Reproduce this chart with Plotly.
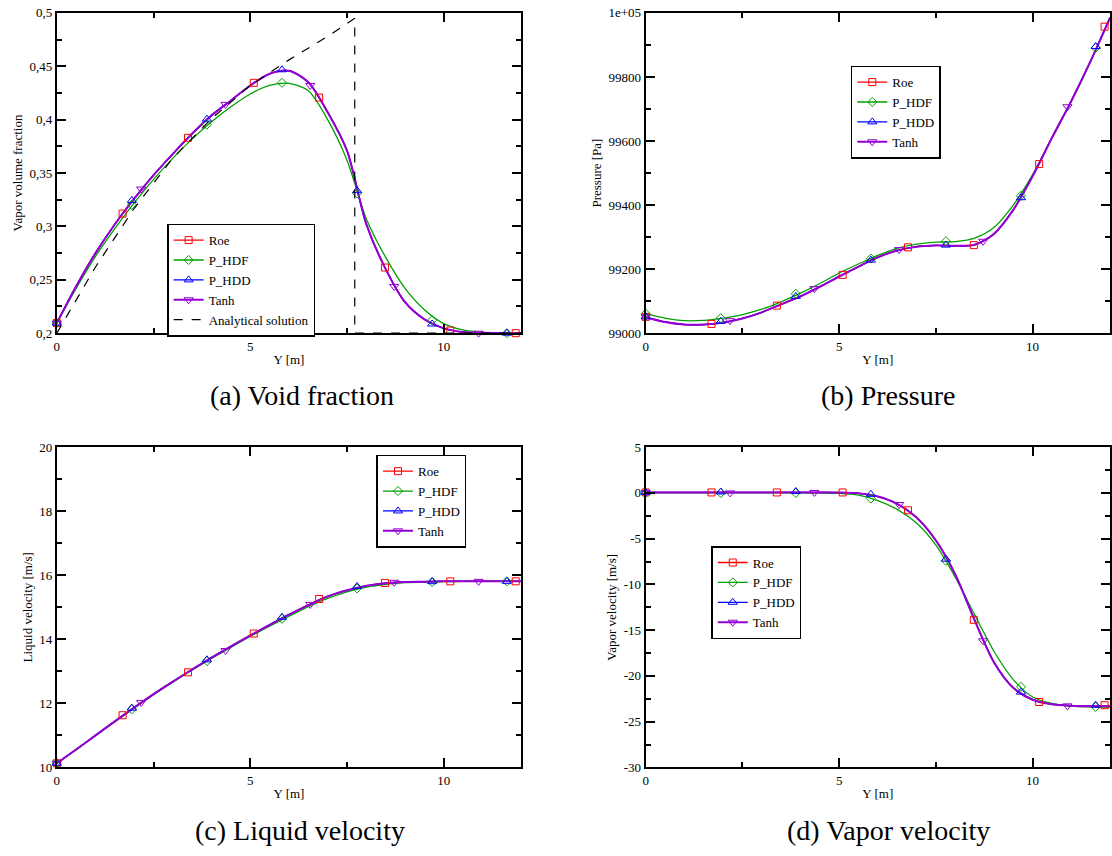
import plotly.graph_objects as go

# ---------------- data ----------------
Y_GRID = [0, 0.5, 1, 1.5, 2, 2.5, 3, 3.5, 4, 4.5, 5, 5.5, 6, 6.5, 7, 7.5, 8,
          8.5, 9, 9.5, 10, 10.5, 11, 11.5, 12]

# marker abscissae for each scheme
MK_X_ROE = [0, 1.70, 3.39, 5.09, 6.78, 8.48, 10.17, 11.86]
MK_X_HD = [0, 1.94, 3.88, 5.82, 7.76, 9.70, 11.63]
MK_X_TANH = [0, 2.18, 4.36, 6.55, 8.72, 10.90]

# (a) void fraction
VF_ROE = [0.2095, 0.244, 0.275, 0.302, 0.326, 0.348, 0.368, 0.387, 0.404, 0.418,
          0.432, 0.443, 0.4458, 0.435, 0.407, 0.371, 0.302, 0.260, 0.229, 0.213,
          0.2045, 0.201, 0.2003, 0.2, 0.2]
VF_HDF = [0.2095, 0.242, 0.272, 0.298, 0.322, 0.344, 0.364, 0.382, 0.398, 0.412,
          0.424, 0.432, 0.434, 0.427, 0.400, 0.362, 0.307, 0.271, 0.242, 0.222,
          0.209, 0.203, 0.2008, 0.2002, 0.2]
VF_HDD = VF_ROE
VF_TANH = VF_ROE
VF_MK_ROE = [0.2095, 0.312, 0.383, 0.4345, 0.4207, 0.2615, 0.2025, 0.2]
VF_MK_HDF = [0.2095, 0.3203, 0.3953, 0.4345, 0.331, 0.2122, 0.2]
VF_MK_HDD = [0.2095, 0.3243, 0.4005, 0.4467, 0.3335, 0.2086, 0.2]
VF_MK_TANH = [0.2095, 0.335, 0.4143, 0.432, 0.2438, 0.2]
ANA_X = [0, 1, 2, 3, 4, 5, 6, 7, 7.7, 7.7, 12]
ANA_Y = [0.2, 0.262, 0.317, 0.364, 0.401, 0.432, 0.456, 0.478, 0.495, 0.2, 0.2]

# (b) pressure
P_ROE = [99050, 99035, 99027, 99027, 99033, 99046, 99065, 99090, 99115, 99145,
         99177, 99208, 99237, 99258, 99270, 99274, 99273, 99276, 99310, 99385,
         99490, 99610, 99725, 99850, 99985]
P_HDF = [99061, 99047, 99039, 99040, 99047, 99058, 99075, 99098, 99125, 99155,
         99188, 99216, 99243, 99265, 99278, 99284, 99286, 99297, 99330, 99400,
         99495, 99610, 99725, 99850, 99985]
P_HDD = P_ROE
P_TANH = P_ROE
P_MK_ROE = [99051, 99029, 99086, 99182, 99268, 99275, 99528, 99957]
P_MK_HDF = [99061, 99047, 99123, 99233, 99287, 99429, 99891]
P_MK_HDD = [99051, 99037, 99115, 99228, 99275, 99423, 99895]
P_MK_TANH = [99051, 99039, 99139, 99261, 99287, 99707]

# (c) liquid velocity
UL_ROE = [10.13, 10.56, 11.0, 11.44, 11.87, 12.29, 12.68, 13.06, 13.43, 13.78,
          14.12, 14.45, 14.77, 15.07, 15.34, 15.53, 15.67, 15.75, 15.79, 15.80,
          15.81, 15.81, 15.81, 15.81, 15.81]
UL_HDF = [10.13, 10.56, 11.0, 11.43, 11.85, 12.27, 12.66, 13.04, 13.40, 13.75,
          14.09, 14.41, 14.72, 15.02, 15.28, 15.48, 15.63, 15.72, 15.77, 15.79,
          15.80, 15.81, 15.81, 15.81, 15.81]
UL_HDD = UL_ROE
UL_TANH = UL_ROE
UL_MK_ROE = [10.13, 11.63, 12.97, 14.18, 15.26, 15.76, 15.81, 15.81]
UL_MK_HDF = [10.13, 11.82, 13.32, 14.64, 15.59, 15.79, 15.81]
UL_MK_HDD = [10.13, 11.85, 13.36, 14.69, 15.65, 15.80, 15.81]
UL_MK_TANH = [10.13, 12.03, 13.65, 15.09, 15.78, 15.81]

# (d) vapor velocity
UG_ROE = [0.05, 0.05, 0.05, 0.05, 0.05, 0.05, 0.05, 0.05, 0.05, 0.05,
          0.04, -0.05, -0.4, -1.2, -2.7, -5.2, -8.9, -13.9, -18.5, -21.3,
          -22.6, -23.1, -23.25, -23.3, -23.3]
UG_HDF = [0.0, 0.0, 0.0, 0.0, 0.0, 0.0, 0.0, 0.0, 0.0, -0.02,
          -0.06, -0.25, -0.85, -1.8, -3.3, -5.7, -9.2, -13.3, -17.3, -20.4,
          -22.3, -23.0, -23.3, -23.38, -23.4]
UG_HDD = UG_ROE
UG_TANH = UG_ROE
UG_MK_ROE = [0.05, 0.05, 0.05, 0.05, -1.9, -13.87, -22.85, -23.2]
UG_MK_HDF = [0.0, 0.0, 0.0, -0.62, -7.42, -21.2, -23.38]
UG_MK_HDD = [0.05, 0.1, 0.15, -0.15, -7.24, -21.77, -23.2]
UG_MK_TANH = [0.05, 0.0, 0.05, -1.27, -16.16, -23.27]

SCHEMES = ["Roe", "P_HDF", "P_HDD", "Tanh"]
CAPTIONS = ["(a) Void fraction", "(b) Pressure", "(c) Liquid velocity", "(d) Vapor velocity"]
Y_TITLES = ["Vapor volume fraction", "Pressure [Pa]", "Liquid velocity [m/s]", "Vapor velocity [m/s]"]
X_TITLE = "Y [m]"

# ---------------- styling ----------------
W, H = 1112, 856
SERIF = "Liberation Serif, Times New Roman, serif"
COLORS = ["#ff0000", "#00a000", "#0000ff", "#9400d3"]
SYMBOLS = ["square-open", "diamond-open", "triangle-up-open", "triangle-down-open"]
MSIZE = [7, 7, 8, 8]
LWIDTH = [1.3, 1.3, 1.3, 2.0]

# panel boxes in pixels (left, right, top, bottom)
BOXES = [(54, 520, 6, 332), (645, 1111, 6, 332), (54, 520, 448, 774), (645, 1111, 448, 774)]
# legend box centres in pixels
LEGEND_POS = [(239, 278), (896, 107), (420, 503), (756, 596)]
CAPTION_POS = [(300, 395), (889, 395), (298, 838), (889, 838)]

panels = [
    (VF_ROE, VF_HDF, VF_HDD, VF_TANH, VF_MK_ROE, VF_MK_HDF, VF_MK_HDD, VF_MK_TANH),
    (P_ROE, P_HDF, P_HDD, P_TANH, P_MK_ROE, P_MK_HDF, P_MK_HDD, P_MK_TANH),
    (UL_ROE, UL_HDF, UL_HDD, UL_TANH, UL_MK_ROE, UL_MK_HDF, UL_MK_HDD, UL_MK_TANH),
    (UG_ROE, UG_HDF, UG_HDD, UG_TANH, UG_MK_ROE, UG_MK_HDF, UG_MK_HDD, UG_MK_TANH),
]
MK_XS = [MK_X_ROE, MK_X_HD, MK_X_HD, MK_X_TANH]

fig = go.Figure()

for p, data in enumerate(panels):
    sfx = "" if p == 0 else str(p + 1)
    xa, ya = "x" + sfx, "y" + sfx
    leg = "legend" + sfx
    lines, marks = data[:4], data[4:]
    for s in range(4):
        fig.add_trace(go.Scatter(
            x=Y_GRID, y=lines[s], mode="lines", xaxis=xa, yaxis=ya,
            line=dict(color=COLORS[s], width=LWIDTH[s], shape="spline", smoothing=0.8),
            showlegend=False, hoverinfo="skip"))
    for s in range(4):
        fig.add_trace(go.Scatter(
            x=MK_XS[s], y=marks[s], mode="markers", xaxis=xa, yaxis=ya,
            marker=dict(symbol=SYMBOLS[s], size=MSIZE[s], color=COLORS[s],
                        line=dict(width=1, color=COLORS[s])),
            cliponaxis=False, showlegend=False))
    if p == 0:
        fig.add_trace(go.Scatter(
            x=ANA_X, y=ANA_Y, mode="lines", xaxis=xa, yaxis=ya,
            line=dict(color="black", width=1.2, dash="dash"), showlegend=False))
    # legend entries
    for s in range(4):
        fig.add_trace(go.Scatter(
            x=[None], y=[None], mode="lines+markers", xaxis=xa, yaxis=ya,
            name=SCHEMES[s], legend=leg,
            line=dict(color=COLORS[s], width=LWIDTH[s]),
            marker=dict(symbol=SYMBOLS[s], size=MSIZE[s], color=COLORS[s],
                        line=dict(width=1, color=COLORS[s]))))
    if p == 0:
        fig.add_trace(go.Scatter(
            x=[None], y=[None], mode="lines", xaxis=xa, yaxis=ya,
            name="Analytical solution", legend=leg,
            line=dict(color="black", width=1.2, dash="dash")))

Y_AXES = [
    dict(range=[0.2, 0.5], tickvals=[0.2, 0.25, 0.3, 0.35, 0.4, 0.45, 0.5],
         ticktext=["0,2", "0,25", "0,3", "0,35", "0,4", "0,45", "0,5"],
         minor=[0.225, 0.275, 0.325, 0.375, 0.425, 0.475]),
    dict(range=[99000, 100000], tickvals=[99000, 99200, 99400, 99600, 99800, 100000],
         ticktext=["99000", "99200", "99400", "99600", "99800", "1e+05"],
         minor=[99100, 99300, 99500, 99700, 99900]),
    dict(range=[10, 20], tickvals=[10, 12, 14, 16, 18, 20],
         ticktext=["10", "12", "14", "16", "18", "20"],
         minor=[11, 13, 15, 17, 19]),
    dict(range=[-30, 5], tickvals=[-30, -25, -20, -15, -10, -5, 0, 5],
         ticktext=["-30", "-25", "-20", "-15", "-10", "-5", "0", "5"],
         minor=[-27.5, -22.5, -17.5, -12.5, -7.5, -2.5, 2.5]),
]

layout = dict(
    width=W, height=H, margin=dict(l=0, r=0, t=0, b=0),
    paper_bgcolor="white", plot_bgcolor="white",
    font=dict(family=SERIF, color="black", size=13),
    annotations=[],
)

axis_common = dict(
    showgrid=False, zeroline=False, showline=True, linecolor="black", linewidth=2,
    mirror="allticks", ticks="inside", ticklen=9, tickwidth=1.5, tickcolor="black",
    tickfont=dict(family=SERIF, size=13, color="black"), tickmode="array",
)

for p in range(4):
    sfx = "" if p == 0 else str(p + 1)
    l, r, t, b = BOXES[p]
    yspec = Y_AXES[p]
    layout["xaxis" + sfx] = dict(
        axis_common, domain=[l / W, r / W], anchor="y" + sfx, range=[0, 12],
        tickvals=[0, 5, 10], ticktext=["0", "5", "10"],
        minor=dict(tickmode="array", tickvals=[2.5, 7.5], ticks="inside", ticklen=5,
                   tickwidth=1.5, tickcolor="black"),
        title=dict(text=X_TITLE, font=dict(family=SERIF, size=13), standoff=2))
    layout["yaxis" + sfx] = dict(
        axis_common, domain=[1 - b / H, 1 - t / H], anchor="x" + sfx,
        range=yspec["range"], tickvals=yspec["tickvals"], ticktext=yspec["ticktext"],
        minor=dict(tickmode="array", tickvals=yspec["minor"], ticks="inside", ticklen=5,
                   tickwidth=1.5, tickcolor="black"),
        title=dict(text=Y_TITLES[p], font=dict(family=SERIF, size=13), standoff=4))
    lx, ly = LEGEND_POS[p]
    layout["legend" + sfx] = dict(
        x=lx / W, y=1 - ly / H, xanchor="center", yanchor="middle",
        bgcolor="white", bordercolor="black", borderwidth=1.5,
        font=dict(family=SERIF, size=13, color="black"), itemwidth=30,
        tracegroupgap=0)
    cx, cy = CAPTION_POS[p]
    layout["annotations"].append(dict(
        text=CAPTIONS[p], xref="paper", yref="paper", x=cx / W, y=1 - cy / H,
        xanchor="center", yanchor="middle", showarrow=False,
        font=dict(family=SERIF, size=28, color="black")))

fig.update_layout(**layout)
fig.write_html("out.html", config={"displayModeBar": False},
               post_script="document.body.style.margin='0';")
